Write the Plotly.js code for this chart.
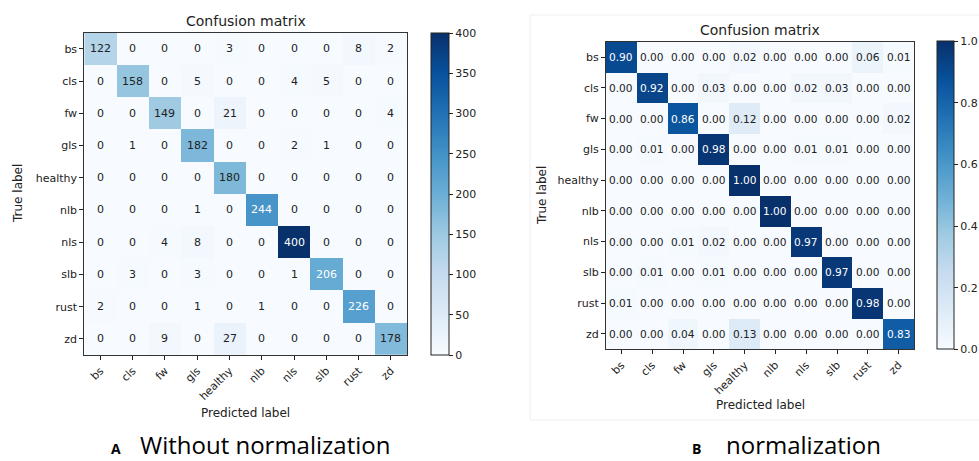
<!DOCTYPE html>
<html><head><meta charset="utf-8">
<script src="https://cdn.plot.ly/plotly-3.0.1.min.js"></script>
<style>html,body{margin:0;padding:0;background:#fff}</style>
</head><body><div id="chart" style="width:979px;height:461px"></div>
<script>
const labels = ['bs','cls','fw','gls','healthy','nlb','nls','slb','rust','zd'];
const counts = [
  [122,0,0,0,3,0,0,0,8,2],
  [0,158,0,5,0,0,4,5,0,0],
  [0,0,149,0,21,0,0,0,0,4],
  [0,1,0,182,0,0,2,1,0,0],
  [0,0,0,0,180,0,0,0,0,0],
  [0,0,0,1,0,244,0,0,0,0],
  [0,0,4,8,0,0,400,0,0,0],
  [0,3,0,3,0,0,1,206,0,0],
  [2,0,0,1,0,1,0,0,226,0],
  [0,0,9,0,27,0,0,0,0,178]
];
const normalized = [
  [0.90,0.00,0.00,0.00,0.02,0.00,0.00,0.00,0.06,0.01],
  [0.00,0.92,0.00,0.03,0.00,0.00,0.02,0.03,0.00,0.00],
  [0.00,0.00,0.86,0.00,0.12,0.00,0.00,0.00,0.00,0.02],
  [0.00,0.01,0.00,0.98,0.00,0.00,0.01,0.01,0.00,0.00],
  [0.00,0.00,0.00,0.00,1.00,0.00,0.00,0.00,0.00,0.00],
  [0.00,0.00,0.00,0.00,0.00,1.00,0.00,0.00,0.00,0.00],
  [0.00,0.00,0.01,0.02,0.00,0.00,0.97,0.00,0.00,0.00],
  [0.00,0.01,0.00,0.01,0.00,0.00,0.00,0.97,0.00,0.00],
  [0.01,0.00,0.00,0.00,0.00,0.00,0.00,0.00,0.98,0.00],
  [0.00,0.00,0.04,0.00,0.13,0.00,0.00,0.00,0.00,0.83]
];
const countTicks = [0,50,100,150,200,250,300,350,400];
const normTicks = [0,0.2,0.4,0.6,0.8,1.0];

const W = 979, H = 461;
const px = v => v / W;
const py = v => 1 - v / H;
const idx = labels.map((_, i) => i);
const blues = [
  [0,'#f7fbff'],[0.125,'#deebf7'],[0.25,'#c6dbef'],[0.375,'#9ecae1'],
  [0.5,'#6baed6'],[0.625,'#4292c6'],[0.75,'#2171b5'],[0.875,'#08519c'],[1,'#08306b']
];
const FONT = 'DejaVu Sans, sans-serif';
const TXT = '#222';

const traces = [
  {type:'heatmap', x:idx, y:idx, z:counts, zmin:0, zmax:400, colorscale:blues,
   xaxis:'x', yaxis:'y', hoverinfo:'skip',
   colorbar:{x:px(430.7), xanchor:'left', xpad:0, ypad:0, thickness:18, thicknessmode:'pixels',
     len:(355-32.7)/H, lenmode:'fraction', y:py(355), yanchor:'bottom',
     outlinewidth:1, outlinecolor:'#222', tickvals:countTicks, ticks:'outside', ticklen:4,
     tickcolor:'#222', tickfont:{family:FONT, size:11, color:TXT}}},
  {type:'heatmap', x:idx, y:idx, z:normalized, zmin:0, zmax:1, colorscale:blues,
   xaxis:'x2', yaxis:'y2', hoverinfo:'skip',
   colorbar:{x:px(936.7), xanchor:'left', xpad:0, ypad:0, thickness:17, thicknessmode:'pixels',
     len:(349.3-41.7)/H, lenmode:'fraction', y:py(349.3), yanchor:'bottom',
     outlinewidth:1, outlinecolor:'#222', tickvals:normTicks, tickformat:'.1f', ticks:'outside', ticklen:4,
     tickcolor:'#222', tickfont:{family:FONT, size:11, color:TXT}}}
];

function axisX(domain, anchor){
  return {domain:domain, anchor:anchor, range:[-0.5,9.5], tickvals:idx, ticktext:labels,
    tickangle:-45, ticks:'outside', ticklen:4, tickcolor:'#222', showline:true, mirror:true,
    linecolor:'#333', linewidth:1, showgrid:false, zeroline:false, fixedrange:true,
    tickfont:{family:FONT, size:11, color:TXT}};
}
function axisY(domain, anchor){
  return {domain:domain, anchor:anchor, range:[9.5,-0.5], tickvals:idx, ticktext:labels,
    ticks:'outside', ticklen:4, tickcolor:'#222', showline:true, mirror:true,
    linecolor:'#333', linewidth:1, showgrid:false, zeroline:false, fixedrange:true,
    tickfont:{family:FONT, size:11, color:TXT}};
}

const annotations = [];
function cellText(mat, xr, yr, fmt, thresh, size){
  mat.forEach((row, i) => row.forEach((v, j) => {
    annotations.push({xref:xr, yref:yr, x:j, y:i, text:fmt(v), showarrow:false,
      font:{family:FONT, size:size, color: v > thresh ? '#ffffff' : TXT}});
  }));
}
cellText(counts, 'x', 'y', v => String(v), 200, 11);
cellText(normalized, 'x2', 'y2', v => v.toFixed(2), 0.5, 10.6);

function paperText(text, x, y, size, opts){
  annotations.push(Object.assign({xref:'paper', yref:'paper', x:px(x), y:py(y), text:text,
    showarrow:false, xanchor:'center', yanchor:'middle',
    font:{family:FONT, size:size, color:TXT}}, opts || {}));
}
const CAP = 'Open Sans, sans-serif';
paperText('Confusion matrix', 245.6, 21, 14);
paperText('Confusion matrix', 760, 30, 14);
paperText('Predicted label', 245.6, 413, 12);
paperText('Predicted label', 760, 405, 12);
paperText('True label', 18, 194, 12, {textangle:-90});
paperText('True label', 542, 196, 12, {textangle:-90});
paperText('<b>A</b>', 115.5, 448.5, 14, {font:{family:CAP, size:14, color:'#000'}});
paperText('Without normalization', 138, 444, 24, {xanchor:'left', font:{family:CAP, size:24, color:'#000'}});
paperText('<b>B</b>', 696, 448.5, 14, {font:{family:CAP, size:14, color:'#000'}});
paperText('normalization', 724, 444, 24, {xanchor:'left', font:{family:CAP, size:24, color:'#000'}});

const layout = {
  width:W, height:H, margin:{l:0, r:0, t:0, b:0, autoexpand:false},
  paper_bgcolor:'#fff', plot_bgcolor:'#fff', showlegend:false,
  font:{family:FONT, size:11, color:TXT},
  xaxis: axisX([px(84.3), px(407)], 'y'),
  yaxis: axisY([py(355), py(32.7)], 'x'),
  xaxis2: axisX([px(606), px(914)], 'y2'),
  yaxis2: axisY([py(349.3), py(41.7)], 'x2'),
  annotations: annotations,
  shapes: [
    {type:'rect', xref:'paper', yref:'paper', x0:px(530), x1:px(985), y0:py(420), y1:py(15),
     line:{color:'#efefef', width:1}, fillcolor:'rgba(0,0,0,0)', layer:'below'}
  ]
};
Plotly.newPlot('chart', traces, layout, {staticPlot:true, displayModeBar:false});
</script>
</body></html>
